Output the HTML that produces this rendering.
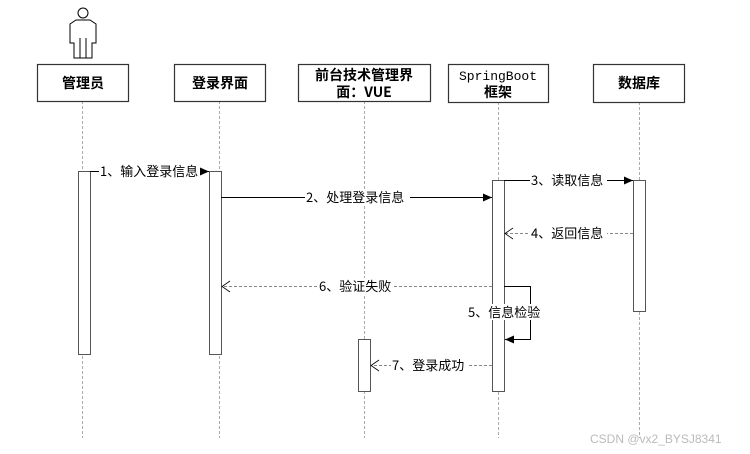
<!DOCTYPE html>
<html><head><meta charset="utf-8"><style>
html,body{margin:0;padding:0;background:#fff;width:750px;height:454px;overflow:hidden}
text{font-family:"Noto Sans CJK SC","Liberation Sans",sans-serif;font-size:13px;fill:#000}
.h{font-size:14px;font-weight:bold;font-family:"Noto Sans CJK SC",sans-serif}
.m{font-family:"Liberation Mono",monospace;font-size:13px;font-weight:normal}
</style></head><body>
<svg width="750" height="454" viewBox="0 0 750 454" xmlns="http://www.w3.org/2000/svg">
<defs>
<marker id="f" markerWidth="10" markerHeight="10" refX="9" refY="4" orient="auto" markerUnits="userSpaceOnUse"><path d="M0,0 L9,4 L0,8Z" fill="#000"/></marker>
</defs>
<g fill="none" stroke="#000" stroke-width="1">
<circle cx="83" cy="13" r="5"/>
<path d="M76,20 H90 L96,24 V43 H92 V58 H74 V43 H70 V24 Z"/>
<path d="M80,58 V38 M86,58 V38"/>
</g>
<g stroke="#aaa" stroke-dasharray="3,2" stroke-width="1">
<line x1="82.5" y1="101" x2="82.5" y2="438"/>
<line x1="219.5" y1="101" x2="219.5" y2="438"/>
<line x1="364.5" y1="101" x2="364.5" y2="438"/>
<line x1="498.5" y1="102" x2="498.5" y2="438"/>
<line x1="639.5" y1="102" x2="639.5" y2="438"/>
</g>
<g fill="#fff" stroke="#333" stroke-width="1.2">
<rect x="37.5" y="64.5" width="91" height="37"/>
<rect x="174.5" y="64.5" width="91" height="37"/>
<rect x="298.5" y="64.5" width="132" height="37"/>
<rect x="448.5" y="64.5" width="100" height="38"/>
<rect x="593.5" y="64.5" width="91" height="38"/>
</g>
<text class="h" x="83" y="88" text-anchor="middle">管理员</text>
<text class="h" x="220" y="88" text-anchor="middle">登录界面</text>
<text class="h" x="364" y="80" text-anchor="middle">前台技术管理界</text>
<text class="h" x="364" y="97" text-anchor="middle">面：VUE</text>
<text class="m" x="498" y="80" text-anchor="middle">SpringBoot</text>
<text class="h" x="498" y="97" text-anchor="middle">框架</text>
<text class="h" x="639" y="88" text-anchor="middle">数据库</text>
<g fill="#fff" stroke="#555" stroke-width="1">
<rect x="78.5" y="171.5" width="12" height="183"/>
<rect x="209.5" y="171.5" width="12" height="183"/>
<rect x="492.5" y="180.5" width="12" height="211"/>
<rect x="633.5" y="180.5" width="12" height="131"/>
<rect x="358.5" y="339.5" width="12" height="52"/>
</g>
<g stroke="#000" stroke-width="1" fill="none">
<line x1="90" y1="171.5" x2="209" y2="171.5" marker-end="url(#f)"/>
<line x1="221" y1="197.5" x2="492" y2="197.5" marker-end="url(#f)"/>
<line x1="504" y1="180.5" x2="633" y2="180.5" marker-end="url(#f)"/>
<polyline points="504,286.5 530.5,286.5 530.5,339.5 505,339.5" marker-end="url(#f)"/>
</g>
<g stroke="#888" stroke-width="1" stroke-dasharray="3,2" fill="none">
<line x1="633" y1="233.5" x2="505" y2="233.5"/>
<line x1="492" y1="286.5" x2="222" y2="286.5"/>
<line x1="492" y1="365.5" x2="371" y2="365.5"/>
</g>
<path d="M513,228 L505,233.5 L513,239 M230,281 L222,286.5 L230,292 M379,360 L371,365.5 L379,371" fill="none" stroke="#000" stroke-width="0.8"/>
<g fill="#fff">
<rect x="99" y="163" width="101" height="16"/>
<rect x="305" y="189" width="105" height="16"/>
<rect x="530" y="172" width="77" height="16"/>
<rect x="530" y="225" width="77" height="16"/>
<rect x="318" y="278" width="76" height="16"/>
<rect x="467" y="304" width="76" height="16"/>
<rect x="391" y="357" width="76" height="16"/>
</g>
<text x="100" y="176">1、输入登录信息</text>
<text x="306" y="202">2、处理登录信息</text>
<text x="531" y="185">3、读取信息</text>
<text x="531" y="238">4、返回信息</text>
<text x="319" y="291">6、验证失败</text>
<text x="468" y="317">5、信息检验</text>
<text x="392" y="370">7、登录成功</text>
<text x="590" y="443" style="fill:#bbb;font-size:12px;font-family:'Liberation Sans',sans-serif">CSDN @vx2_BYSJ8341</text>
</svg>
</body></html>
